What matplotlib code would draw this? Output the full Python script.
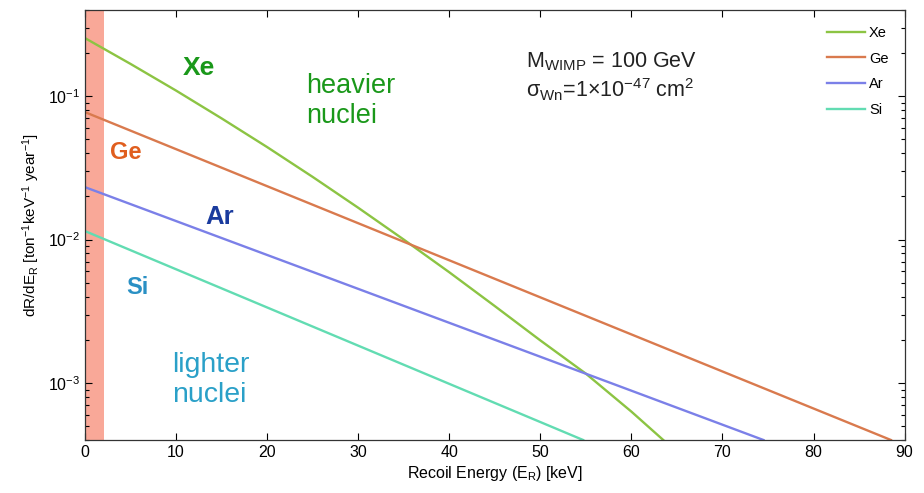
import matplotlib
matplotlib.use('Agg')
import matplotlib.pyplot as plt
from matplotlib.ticker import LogLocator, NullFormatter, MultipleLocator

plt.rcParams['font.family'] = ['Liberation Sans', 'DejaVu Sans']
plt.rcParams['mathtext.default'] = 'regular'
plt.rcParams['axes.unicode_minus'] = False

# recoil spectra (keV, events / ton / keV / year)
xe_energy = [0, 5, 10, 15, 20, 25, 30, 35, 40, 45, 50, 55, 60, 63.5]
xe_rate = [0.2541, 0.1679, 0.1094, 0.0700, 0.04416, 0.02735, 0.01667, 0.0100,
           0.005916, 0.003436, 0.00198, 0.001161, 0.000631, 0.0004]
ge_energy = [0, 30, 60, 88.5]
ge_rate = [0.0774, 0.0130, 0.00218, 0.0004]
ar_energy = [0, 30, 60, 74.5]
ar_rate = [0.0232, 0.00453, 0.000883, 0.0004]
si_energy = [0, 30, 54.7]
si_rate = [0.01146, 0.00182, 0.0004]

threshold = [0, 2.1]

series = [
    ('Xe', xe_energy, xe_rate, '#8cc443'),
    ('Ge', ge_energy, ge_rate, '#d97a4e'),
    ('Ar', ar_energy, ar_rate, '#7b80e8'),
    ('Si', si_energy, si_rate, '#62dcb2'),
]

fig = plt.figure(figsize=(9.24, 4.93), dpi=100)
ax = fig.add_axes([0.092, 0.1075, 0.887, 0.8725])

ax.axvspan(threshold[0], threshold[1], color='#f9a898', lw=0, zorder=0)

for name, e, r, c in series:
    ax.plot(e, r, color=c, lw=1.7, label=name)

ax.set_yscale('log')
ax.set_xlim(0, 90)
ax.set_ylim(4e-4, 0.4)
ax.xaxis.set_major_locator(MultipleLocator(10))
ax.yaxis.set_major_locator(LogLocator(base=10, numticks=10))
ax.yaxis.set_minor_locator(LogLocator(base=10, subs=range(2, 10), numticks=10))
ax.yaxis.set_minor_formatter(NullFormatter())
ax.tick_params(which='both', direction='in', top=True, right=True, labelsize=11.5, width=0.8)
ax.tick_params(which='major', length=5)
ax.tick_params(which='minor', length=3)
for s in ax.spines.values():
    s.set_linewidth(0.9)
    s.set_color('#333333')

ax.set_xlabel('Recoil Energy (E$_R$) [keV]', fontsize=11.5, labelpad=3)
ax.set_ylabel('dR/dE$_R$ [ton$^{-1}$keV$^{-1}$ year$^{-1}$]', fontsize=11, labelpad=4)

# element labels
ax.text(10.7, 0.14, 'Xe', color='#1a981a', fontsize=19, fontweight='bold')
ax.text(24.3, 0.092, 'heavier\nnuclei', color='#1a981a', fontsize=19.5, linespacing=1.2, va='center')
ax.text(2.7, 0.0365, 'Ge', color='#e05e1e', fontsize=17, fontweight='bold')
ax.text(13.2, 0.0128, 'Ar', color='#1a3b9e', fontsize=18.5, fontweight='bold')
ax.text(4.5, 0.0042, 'Si', color='#2a90c4', fontsize=17, fontweight='bold')
ax.text(9.6, 0.00105, 'lighter\nnuclei', color='#2aa0c8', fontsize=20.5, linespacing=1.2, va='center')

ax.text(48.4, 0.158, 'M$_{WIMP}$ = 100 GeV', fontsize=15.5, color='#222222')
ax.text(48.4, 0.098, '$\\sigma_{Wn}$=1×10$^{-47}$ cm$^{2}$', fontsize=15.5, color='#222222')

ax.legend(loc='upper right', frameon=False, fontsize=10.5, handlelength=2.6,
          handletextpad=0.3, labelspacing=0.8, borderaxespad=0.7)

fig.savefig('out.png', dpi=100)
